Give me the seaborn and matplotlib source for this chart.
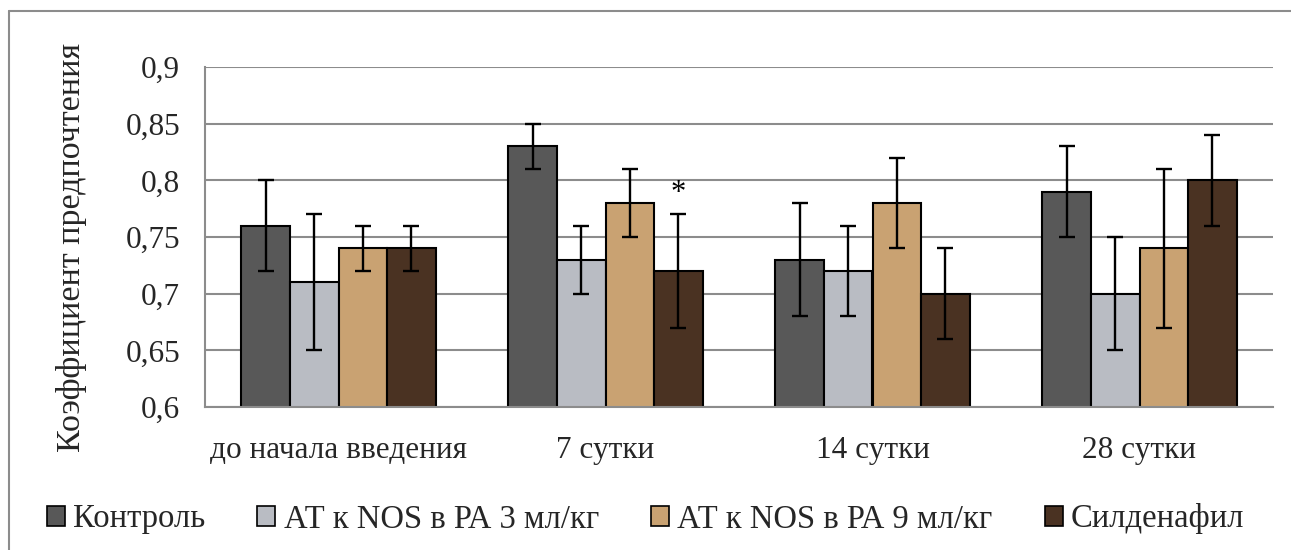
import matplotlib
matplotlib.use("Agg")
import matplotlib.pyplot as plt
import seaborn as sns
import pandas as pd
import numpy as np
from matplotlib.lines import Line2D
from matplotlib.patches import Patch

categories = ["до начала введения", "7 сутки", "14 сутки", "28 сутки"]
series = ["Контроль", "АТ к NOS в РА 3 мл/кг", "АТ к NOS в РА 9 мл/кг", "Силденафил"]
control = [0.76, 0.83, 0.73, 0.79]
at3 = [0.71, 0.73, 0.72, 0.70]
at9 = [0.74, 0.78, 0.78, 0.74]
sild = [0.74, 0.72, 0.70, 0.80]
err_control = [0.04, 0.02, 0.05, 0.04]
err_at3 = [0.06, 0.03, 0.04, 0.05]
err_at9 = [0.02, 0.03, 0.04, 0.07]
err_sild = [0.02, 0.05, 0.04, 0.04]
yticks = [0.6, 0.65, 0.7, 0.75, 0.8, 0.85, 0.9]
ytick_labels = ["0,6", "0,65", "0,7", "0,75", "0,8", "0,85", "0,9"]
ylabel = "Коэффициент предпочтения"

colors = ["#585858", "#b9bcc3", "#c9a272", "#4a3222"]

values = [control, at3, at9, sild]
errors = [err_control, err_at3, err_at9, err_sild]
df = pd.DataFrame({
    "cat": np.repeat([categories], 4, axis=0).ravel(),
    "series": np.repeat(series, 4),
    "val": np.ravel(values),
})

sns.set_theme(style="white")
plt.rcParams["font.family"] = ["Liberation Serif", "DejaVu Serif"]

fig = plt.figure(figsize=(12.91, 5.5), dpi=100)
ax = fig.add_axes([205/1291, 1-407/550, (1273-205)/1291, (407-67)/550])

sns.barplot(data=df, x="cat", y="val", hue="series", order=categories,
            hue_order=series, palette=colors, width=0.727, gap=0,
            edgecolor="black", linewidth=1.5, errorbar=None, legend=False, ax=ax,
            saturation=1)

for cont, err in zip(ax.containers, errors):
    xs = [p.get_x() + p.get_width()/2 for p in cont.patches]
    ys = [p.get_height() for p in cont.patches]
    ax.errorbar(xs, ys, yerr=err, fmt="none", ecolor="black", elinewidth=1.7,
                capsize=5.5, capthick=1.7, zorder=5)

# asterisk over Силденафил at 7 сутки
p = ax.containers[3].patches[1]
ax.text(p.get_x() + p.get_width()/2, sild[1] + err_sild[1] + 0.006, "*",
        ha="center", va="bottom", fontsize=22, color="black")

ax.set_ylim(0.6, 0.9)
ax.set_xlim(-0.5, 3.5)
ax.set_yticks(yticks)
ax.set_yticklabels(ytick_labels, fontsize=22.5)
ax.set_xticks(range(4))
ax.set_xticklabels(categories, fontsize=22.5)
ax.set_xticks([-0.5, 0.5, 1.5, 2.5, 3.5], minor=True)
ax.tick_params(axis="x", which="major", length=0, pad=21)
ax.tick_params(axis="x", which="minor", length=8, width=1.5, color="#8c8c8c", direction="out")
ax.tick_params(axis="y", which="major", length=8, width=1.5, color="#8c8c8c", direction="out", pad=10)
ax.yaxis.grid(True, color="#8c8c8c", linewidth=1.5)
ax.set_axisbelow(True)
for s in ["top", "right"]:
    ax.spines[s].set_visible(False)
for s in ["left", "bottom"]:
    ax.spines[s].set_color("#8c8c8c")
    ax.spines[s].set_linewidth(1.5)
ax.set_xlabel("")
ax.set_ylabel(ylabel, fontsize=24.5)
ax.yaxis.set_label_coords(-118/1068, 0.47)

handles = [Patch(facecolor=c, edgecolor="black", linewidth=1.2) for c in colors]
fig.legend(handles, series, loc="center", bbox_to_anchor=(0.5, 1-519/550), ncol=4,
           frameon=False, fontsize=23.5, handlelength=0.55, handleheight=0.55,
           handletextpad=0.25, columnspacing=1.6, borderpad=0)

# outer chart frame
fig.add_artist(Line2D([9/1291, 9/1291], [0, 1-11/550], transform=fig.transFigure,
                      color="#8c8c8c", linewidth=1.5))
fig.add_artist(Line2D([9/1291, 1], [1-11/550, 1-11/550], transform=fig.transFigure,
                      color="#8c8c8c", linewidth=1.5))

fig.savefig("out.png", dpi=100)
